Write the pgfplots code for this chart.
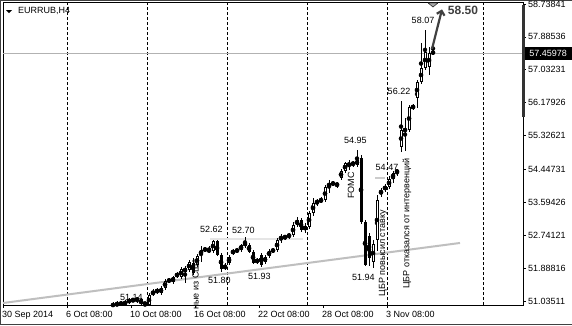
\documentclass[border=0pt]{standalone}
\usepackage{fontspec}
\setmainfont{Liberation Sans}
\usepackage{pgfplots}
\pgfplotsset{compat=1.18}
\usepackage{pgfplotstable}
\usetikzlibrary{arrows.meta}

\pgfplotstableread{
k o h l c
27 50.957 51.009 50.802 50.905
28 50.931 51.035 50.853 50.983
29 50.983 51.035 50.905 50.957
30 50.957 51.061 50.879 51.009
31 51.009 51.113 50.957 51.061
32 51.061 51.087 51.009 51.065
33 51.061 51.140 50.983 51.087
34 51.087 51.113 50.905 50.957
35 50.957 51.009 50.879 50.983
36 50.931 51.243 50.879 51.191
37 51.217 51.346 51.165 51.268
38 51.268 51.372 51.217 51.320
39 51.243 51.424 51.191 51.372
40 51.372 51.606 51.320 51.554
41 51.554 51.632 51.502 51.580
42 51.528 51.684 51.476 51.658
43 51.684 51.787 51.632 51.735
44 51.658 51.917 51.606 51.865
45 51.787 51.943 51.502 51.891
46 51.839 52.099 51.787 52.047
47 52.021 52.150 51.709 51.761
48 51.969 52.254 51.917 52.202
49 52.228 52.462 52.047 52.358
50 52.358 52.436 52.306 52.384
51 52.384 52.462 52.280 52.306
52 52.332 52.620 52.280 52.591
53 52.591 52.610 52.202 52.228
54 52.228 52.280 51.800 51.865
55 51.891 52.021 51.830 51.943
56 52.021 52.228 51.969 52.176
57 52.280 52.384 52.228 52.332
58 52.332 52.410 52.280 52.358
59 52.358 52.514 52.306 52.488
60 52.565 52.700 52.410 52.462
61 52.488 52.540 52.280 52.306
62 52.306 52.358 51.995 52.021
63 52.073 52.150 51.995 52.080
64 52.228 52.280 51.930 51.969
65 52.047 52.228 51.995 52.176
66 52.202 52.384 52.150 52.332
67 52.332 52.410 52.280 52.358
68 52.358 52.669 52.306 52.617
69 52.643 52.773 52.540 52.695
70 52.669 52.747 52.617 52.721
71 52.721 52.799 52.643 52.747
72 52.747 53.084 52.695 53.006
73 53.006 53.214 52.955 53.136
74 53.136 53.188 52.825 52.877
75 52.877 53.058 52.799 52.981
76 52.955 53.370 52.903 53.318
77 53.318 53.707 53.240 53.577
78 53.577 53.681 53.499 53.629
79 53.629 53.733 53.577 53.655
80 53.655 54.044 53.603 53.992
81 53.992 54.174 53.837 54.096
82 54.096 54.148 54.018 54.070
83 54.044 54.122 53.966 54.070
84 54.226 54.459 54.174 54.407
85 54.407 54.641 54.356 54.615
86 54.589 54.693 54.433 54.563
87 54.589 54.667 54.511 54.615
88 54.563 54.950 54.511 54.693
89 54.745 54.822 53.032 53.084
90 53.084 53.136 51.940 51.969
91 52.721 52.799 51.943 52.150
92 52.047 52.617 51.891 52.514
93 52.617 53.785 52.332 53.655
94 53.837 53.966 53.733 53.889
95 53.914 54.070 53.863 54.018
96 53.992 54.278 53.940 54.200
97 54.200 54.400 54.096 54.356
98 54.356 54.470 54.278 54.433
99 55.030 56.220 54.900 55.471
100 55.445 55.782 54.926 55.497
101 55.471 56.119 55.419 56.067
102 56.041 56.145 55.989 56.093
103 56.301 56.768 56.041 56.716
104 56.716 57.727 56.664 57.079
105 57.079 58.070 57.027 57.494
106 57.105 57.624 56.897 57.468
107 57.494 57.753 57.416 57.460
}\candles

\begin{document}
\begin{tikzpicture}[font=\fontsize{9}{10}\selectfont]
\fill[white, use as bounding box] (0,0) rectangle (572pt,325pt);
\draw[black!75, line width=1pt] (572pt,0.5pt) -- (0.5pt,0.5pt) -- (0.5pt,324.5pt) -- (572pt,324.5pt);
\begin{axis}[
  at={(3pt,20pt)}, anchor=south west,
  scale only axis, width=520pt, height=302pt,
  xmin=0, xmax=130, ymin=50.931, ymax=58.765,
  axis line style={black, line width=1pt},
  clip mode=individual,
  tick align=outside, major tick length=3pt,
  tick style={black, line width=0.8pt},
  xtick pos=bottom, ytick pos=right,
  yticklabel pos=right,
  xtick={0,16,32,48,64,80,96},
  xticklabels={30 Sep 2014,6 Oct 08:00,10 Oct 08:00,16 Oct 08:00,22 Oct 08:00,28 Oct 08:00,3 Nov 08:00},
  xticklabel style={anchor=north west, inner sep=0pt, yshift=-3pt, xshift=-1pt},
  ytick={51.03511,51.88816,52.74121,53.59426,54.44731,55.32621,56.17926,57.03231,57.88536,58.73841},
  yticklabels={51.03511,51.88816,52.74121,53.59426,54.44731,55.32621,56.17926,57.03231,57.88536,58.73841},
  yticklabel style={anchor=west, inner sep=0pt, xshift=2pt},
  /pgf/number format/assume math mode=true,
]
% period separators
\addplot[black, line width=0.9pt, dash pattern=on 3pt off 2pt] coordinates {(16,50.931) (16,58.765)};
\addplot[black, line width=0.9pt, dash pattern=on 3pt off 2pt] coordinates {(36,50.931) (36,58.765)};
\addplot[black, line width=0.9pt, dash pattern=on 3pt off 2pt] coordinates {(56,50.931) (56,58.765)};
\addplot[black, line width=0.9pt, dash pattern=on 3pt off 2pt] coordinates {(76,50.931) (76,58.765)};
\addplot[black, line width=0.9pt, dash pattern=on 3pt off 2pt] coordinates {(96,50.931) (96,58.765)};
\addplot[black, line width=0.9pt, dash pattern=on 3pt off 2pt] coordinates {(120,50.931) (120,58.765)};
% bid line and drawn objects
\addplot[black!30, line width=0.9pt] coordinates {(0,57.45978) (130,57.45978)};
\addplot[black!10, line width=2pt] coordinates {(51.75,52.643) (75,52.643)};
\addplot[black!20, line width=2pt] coordinates {(93,54.23) (95.5,54.23)};
\addplot[black!25, line width=2pt] coordinates {(0,50.983) (114.25,52.540)};
% wicks
\addplot[only marks, mark=none, error bars/.cd, y dir=both, y explicit, error mark=none,
  error bar style={black, line width=1pt}]
  table[x expr=\thisrow{k}+0.5, y expr=(\thisrow{h}+\thisrow{l})/2,
        y error expr=(\thisrow{h}-\thisrow{l})/2] \candles;
% bodies (black)
\addplot[only marks, mark=none, error bars/.cd, y dir=both, y explicit, error mark=none,
  error bar style={black, line width=3pt}]
  table[x expr=\thisrow{k}+0.5, y expr=(\thisrow{o}+\thisrow{c})/2,
        y error expr={max(abs(\thisrow{c}-\thisrow{o})/2,0.008)}] \candles;
% bodies (white inside of rising candles)
\addplot[only marks, mark=none, error bars/.cd, y dir=both, y explicit, error mark=none,
  error bar style={white, line width=1pt}]
  table[x expr=\thisrow{k}+0.5, y expr=(\thisrow{o}+\thisrow{c})/2,
        y error expr={max((\thisrow{c}-\thisrow{o})/2-0.026,0)}] \candles;
% chart shift marker
\addplot[only marks, mark=triangle*, mark size=3pt,
  mark options={xscale=1.9, yscale=-0.9, fill=black!35, draw=none}] coordinates {(107.5,58.73)};
% arrow
\draw[black!75, line width=2.2pt, -{Straight Barb[length=4pt, width=8pt]}]
  (axis cs:107.25,57.572) -- (axis cs:109.75,58.60);
% price labels
\node at (axis cs:32.1,51.126) {51.14};
\node at (axis cs:52.1,52.890) {52.62};
\node at (axis cs:60.1,52.864) {52.70};
\node at (axis cs:54.1,51.580) {51.80};
\node at (axis cs:64.1,51.684) {51.93};
\node at (axis cs:88.1,55.211) {54.95};
\node at (axis cs:90.1,51.658) {51.94};
\node at (axis cs:96.0,54.511) {54.47};
\node at (axis cs:99.0,56.482) {56.22};
\node at (axis cs:105.0,58.324) {58.07};
\node[text=black!75, font=\fontsize{12}{13}\selectfont\bfseries] at (axis cs:115.0,58.584) {58.50};
% event texts
\node[rotate=90, anchor=east, inner sep=0pt] at (axis cs:48.1,52.150) {ные из США};
\node[rotate=90, anchor=east, inner sep=0pt] at (axis cs:87.0,54.381) {FOMC};
\node[rotate=90, anchor=east, inner sep=0pt] at (axis cs:95.0,53.396) {ЦБР повысил ставку};
\node[rotate=90, anchor=east, inner sep=0pt] at (axis cs:101.0,54.745) {ЦБР отказался от интервенций};
% current price box
\node[fill=black, text=white, anchor=west, inner sep=0pt, minimum width=48pt, minimum height=13pt, xshift=1pt]
  at (axis cs:130,57.45978) {57.45978};
\end{axis}
% scale bar on right border
\draw[black!80, line width=3pt] (523.5pt,320pt) -- (523.5pt,208pt);
% symbol title
\fill[black] (6pt,315pt) -- (12pt,315pt) -- (9pt,312pt) -- cycle;
\node[anchor=west, inner sep=0pt] at (18pt,314pt) {EURRUB,H4};
\end{tikzpicture}
\end{document}
